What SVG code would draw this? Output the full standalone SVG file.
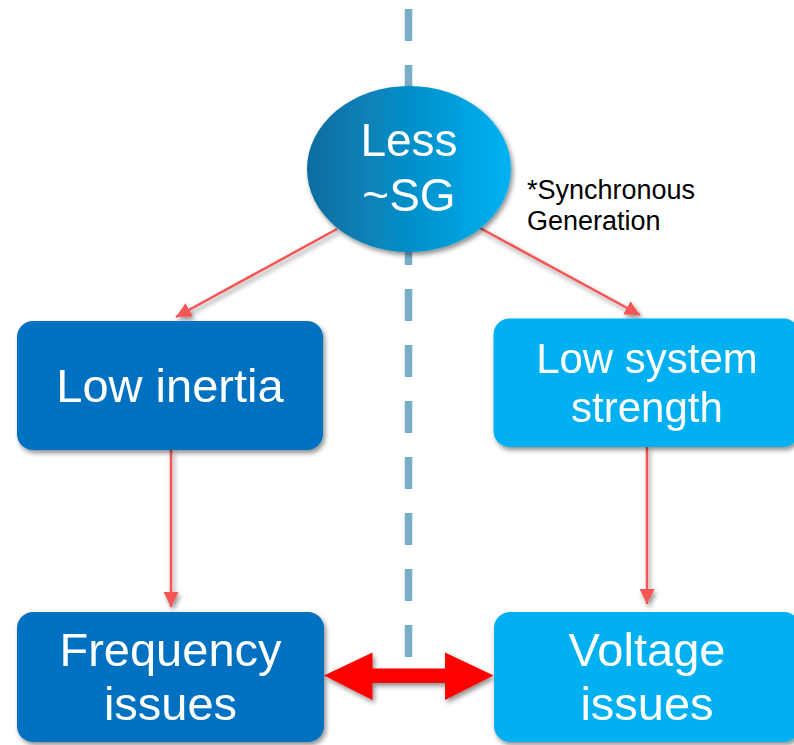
<svg xmlns="http://www.w3.org/2000/svg" width="794" height="745" viewBox="0 0 794 745">
  <defs>
    <linearGradient id="ellipseFill" x1="0" y1="0" x2="1" y2="0">
      <stop offset="0" stop-color="#0b6c9f"/>
      <stop offset="1" stop-color="#00b2f2"/>
    </linearGradient>
    <filter id="shadow" x="-20%" y="-20%" width="140%" height="150%">
      <feGaussianBlur in="SourceAlpha" stdDeviation="2.5"/>
      <feOffset dx="2" dy="3" result="blur"/>
      <feComponentTransfer><feFuncA type="linear" slope="0.45"/></feComponentTransfer>
      <feMerge><feMergeNode/><feMergeNode in="SourceGraphic"/></feMerge>
    </filter>
    <marker id="head" markerWidth="6" markerHeight="6" refX="6" refY="3" orient="auto" markerUnits="strokeWidth">
      <path d="M0,0 L6,3 L0,6 Z" fill="#f55454"/>
    </marker>
    <style>
      .label { font-family: "Liberation Sans", Arial, sans-serif; fill: #ffffff; text-anchor: middle; }
      .note { font-family: "Liberation Sans", Arial, sans-serif; fill: #000000; font-size: 27px; }
      .dark { fill: #0070c0; }
      .light { fill: #00b0f0; }
      .link { stroke: #f55454; stroke-width: 2.5; fill: none; marker-end: url(#head); }
    </style>
  </defs>

  <!-- dashed divider -->
  <line x1="408.5" y1="9" x2="408.5" y2="657" stroke="#78aec8" stroke-width="7.5" stroke-dasharray="32 24"/>

  <!-- connectors -->
  <g id="connectors" filter="url(#shadow)">
    <line class="link" x1="337" y1="229" x2="176" y2="317"/>
    <line class="link" x1="480" y1="228" x2="640" y2="315"/>
    <line class="link" x1="171" y1="450" x2="171" y2="607"/>
    <line class="link" x1="647" y1="447" x2="647" y2="604"/>
    <path d="M324,675.5 L372.5,652.5 L372.5,668.5 L445,668.5 L445,652.5 L493.5,675.5 L445,700 L445,683 L372.5,683 L372.5,700 Z" fill="#ff0000"/>
  </g>

  <!-- source node -->
  <g id="less-sg" filter="url(#shadow)">
    <ellipse cx="409" cy="169" rx="102" ry="83" fill="url(#ellipseFill)"/>
    <text class="label" font-size="46" x="409" y="156">Less</text>
    <text class="label" font-size="46" x="409" y="211">~SG</text>
  </g>

  <g id="note">
    <text class="note" x="527" y="199">*Synchronous</text>
    <text class="note" x="527" y="230">Generation</text>
  </g>

  <g id="low-inertia" filter="url(#shadow)">
    <rect class="dark" x="17" y="321" width="306" height="129" rx="16"/>
    <text class="label" font-size="47" x="170" y="402">Low inertia</text>
  </g>

  <g id="low-system-strength" filter="url(#shadow)">
    <rect class="light" x="493.5" y="318.5" width="306" height="128.5" rx="16"/>
    <text class="label" font-size="42" x="647" y="373">Low system</text>
    <text class="label" font-size="42" x="647" y="422">strength</text>
  </g>

  <g id="frequency-issues" filter="url(#shadow)">
    <rect class="dark" x="17" y="612" width="307" height="130" rx="16"/>
    <text class="label" font-size="47" x="170.5" y="666">Frequency</text>
    <text class="label" font-size="47" x="170.5" y="720">issues</text>
  </g>

  <g id="voltage-issues" filter="url(#shadow)">
    <rect class="light" x="494" y="612" width="306" height="130" rx="16"/>
    <text class="label" font-size="47" x="647" y="666">Voltage</text>
    <text class="label" font-size="47" x="647" y="720">issues</text>
  </g>
</svg>
